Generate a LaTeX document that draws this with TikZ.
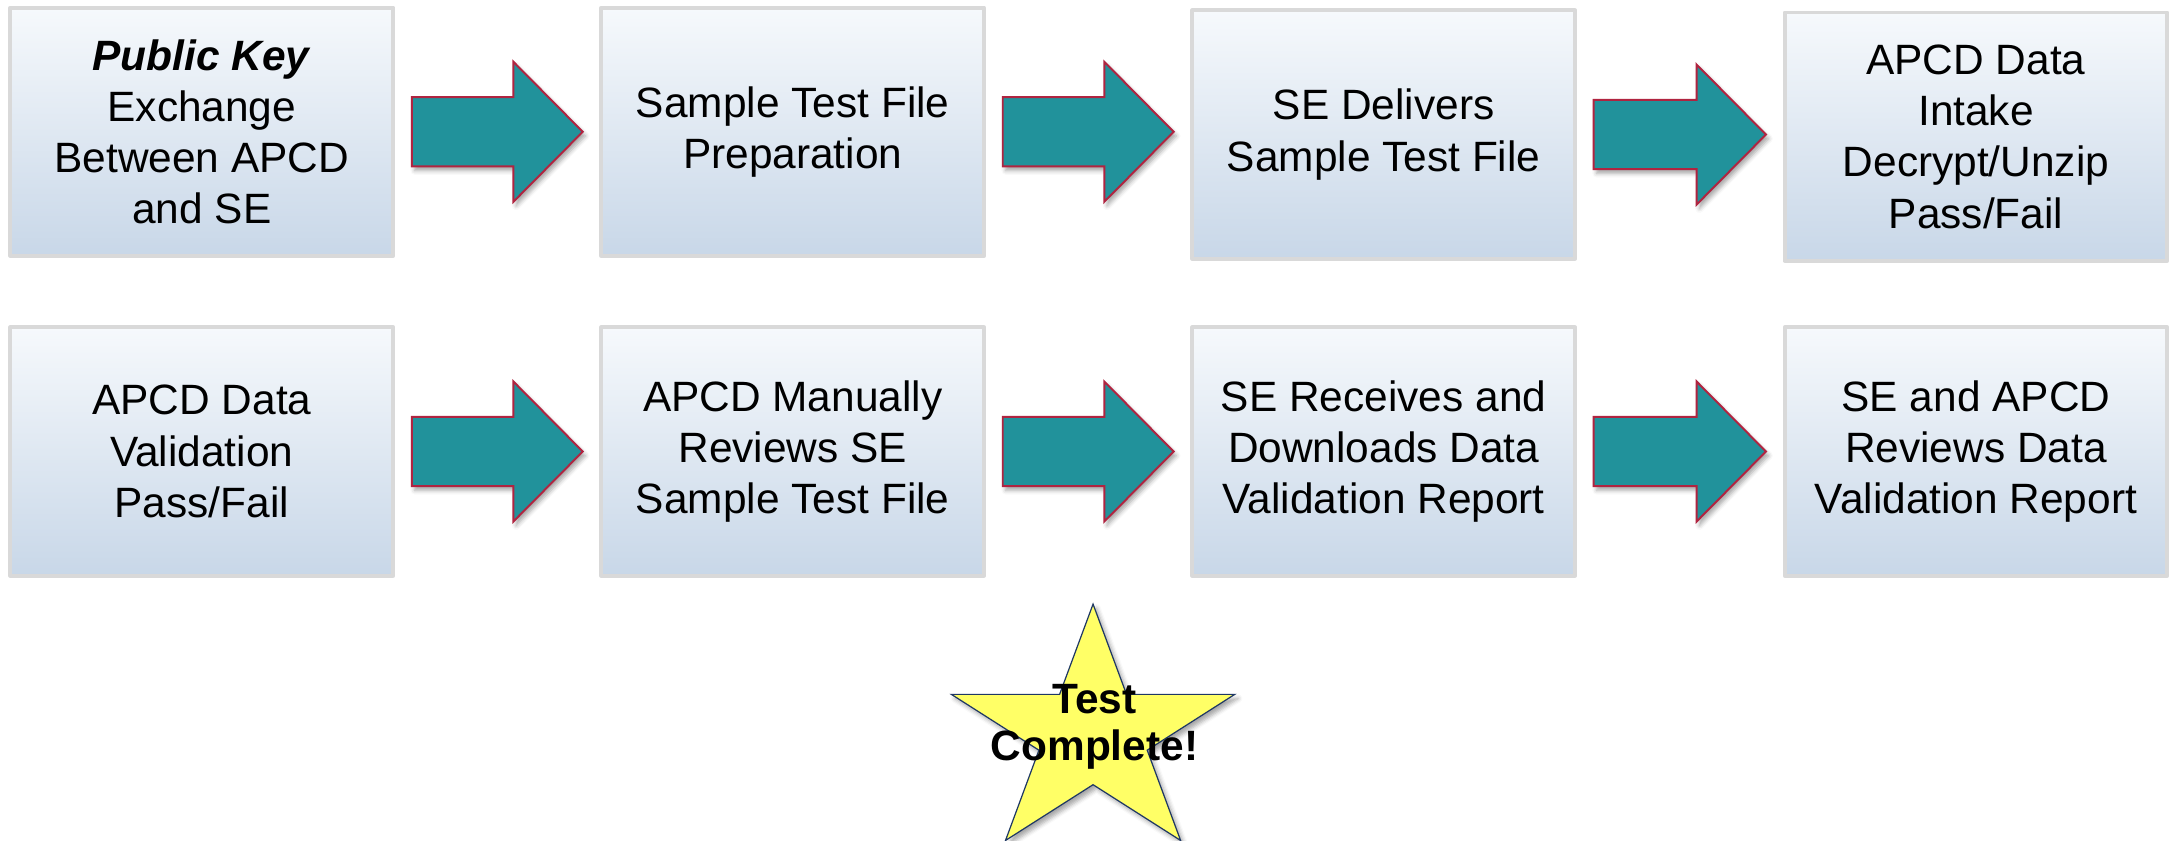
\documentclass[tikz,border=0pt]{standalone}
\usepackage{fontspec}
\setmainfont{Liberation Sans}
\usetikzlibrary{calc,shadows.blur}
\definecolor{boxtop}{RGB}{246,249,252}
\definecolor{boxbottom}{RGB}{200,215,232}
\definecolor{boxline}{RGB}{217,217,217}
\definecolor{arrowteal}{RGB}{33,146,155}
\definecolor{arrowrim}{RGB}{176,36,64}
\definecolor{staryellow}{RGB}{255,255,102}
\definecolor{starrim}{RGB}{31,56,100}

\begin{document}
\begin{tikzpicture}[line cap=round, line join=round, font=\fontsize{17.4}{21}\selectfont]
	\tikzset{stagebox/.style={draw=boxline, line width=1.6pt, top color=boxtop, bottom color=boxbottom,
			minimum width=5.52cm, minimum height=3.58cm, align=center, inner sep=2pt},
		blockarrow/.style={fill=arrowteal, draw=arrowrim, line width=0.8pt, line join=miter,
			blur shadow={shadow xshift=0.04cm, shadow yshift=-0.06cm, shadow blur radius=0.06cm, shadow opacity=35}},
		starshape/.style={fill=staryellow, draw=starrim, line width=0.5pt, line join=miter,
			blur shadow={shadow xshift=0.05cm, shadow yshift=-0.06cm, shadow blur radius=0.06cm, shadow opacity=35}}}
	\useasboundingbox (0,0) rectangle (31.36,12.12);
	\node[stagebox] (keys) at (2.91,10.22) {\textbf{\textit{Public Key}}\\Exchange\\Between APCD\\and SE};
	\node[stagebox] (prep) at (11.43,10.22) {Sample Test File\\Preparation};
	\node[stagebox] (deliver) at (19.95,10.18) {SE Delivers\\Sample Test File};
	\node[stagebox] (intake) at (28.49,10.15) {APCD Data\\Intake\\Decrypt/Unzip\\Pass/Fail};
	\node[stagebox] (valid) at (2.91,5.61) {APCD Data\\Validation\\Pass/Fail};
	\node[stagebox] (manual) at (11.43,5.61) {APCD Manually\\Reviews SE\\Sample Test File};
	\node[stagebox] (receive) at (19.95,5.61) {SE Receives and\\Downloads Data\\Validation Report};
	\node[stagebox] (joint) at (28.49,5.61) {SE and APCD\\Reviews Data\\Validation Report};
	\foreach \a/\b in {keys/prep, prep/deliver, deliver/intake, valid/manual, manual/receive, receive/joint}
	\draw[blockarrow] let \p1=($(\a.east)+(0.24,0)$), \p2=($(\b.west)-(0.24,0)$) in
		(\x1,\y1+0.5cm) -- (\x2-1cm,\y1+0.5cm) -- (\x2-1cm,\y1+1.01cm) -- (\x2,\y1)
		-- (\x2-1cm,\y1-1.01cm) -- (\x2-1cm,\y1-0.5cm) -- (\x1,\y1-0.5cm) -- cycle;
	\begin{scope}[shift={(15.76,1.526)}, xscale=1.14]
		\draw[starshape] (90:1.884) -- (126:0.72) -- (162:1.884) -- (198:0.72) -- (234:1.884)
			-- (270:0.72) -- (306:1.884) -- (342:0.72) -- (18:1.884) -- (54:0.72) -- cycle;
	\end{scope}
	\node[font=\fontsize{17.4}{19.5}\selectfont\bfseries, align=center] (done) at (15.78,1.64) {Test\\Complete!};
\end{tikzpicture}
\end{document}
